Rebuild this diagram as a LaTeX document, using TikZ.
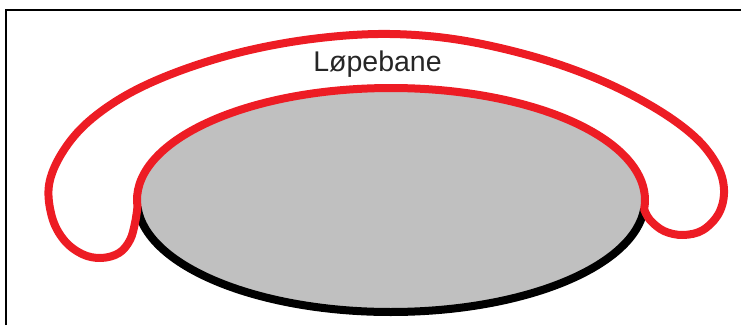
\documentclass[tikz,border=0pt]{standalone}
\usepackage{fontspec}
\setmainfont{Liberation Sans}
\usetikzlibrary{calc}
\definecolor{trackred}{RGB}{237,28,36}
\definecolor{fieldgray}{RGB}{192,192,192}
\begin{document}
\begin{tikzpicture}[x=1pt,y=1pt,
  frameline/.style={line width=1.8pt,black},
  fieldfill/.style={fill=fieldgray},
  fieldedge/.style={draw=black,line width=8pt},
  trackline/.style={draw=trackred,line width=8pt,line join=round,line cap=round},
  labeltext/.style={font=\fontsize{28.5}{30}\selectfont,text=black!85,inner sep=0pt,anchor=base}]
\useasboundingbox (0,0) rectangle (741,325);
\draw[frameline] (6,0) -- (6,315) -- (741,315);
% field
\coordinate (C) at (391,125);
\fill[fieldfill] (C) ellipse[x radius=254pt,y radius=112pt];
\coordinate (J1) at ($(C)+(183.6:254pt and 112pt)$);
\draw[fieldedge] (J1) arc[start angle=183.6,end angle=355.4,x radius=254pt,y radius=112pt] coordinate (J2);
% track
\draw[trackline] (J1) arc[start angle=183.6,end angle=-4.6,x radius=254pt,y radius=112pt]
  -- plot[smooth,tension=0.6] coordinates {
   (644,116) (650,105) (664,94) (683,90) (703,95) (719,112) (724,135) (717,160)
   (695,188) (655,217) (600,245) (535,268) (460,285) (390,291)
   (320,287) (250,275) (185,256) (130,232) (88,203) (62,172)
   (49,140) (52,108) (64,85) (82,71) (101,67) (119,72) (130,85) (135,102) (137.5,118)}
  -- cycle;
\node[labeltext] (lbl) at (377.5,254) {Løpebane};
\end{tikzpicture}
\end{document}
